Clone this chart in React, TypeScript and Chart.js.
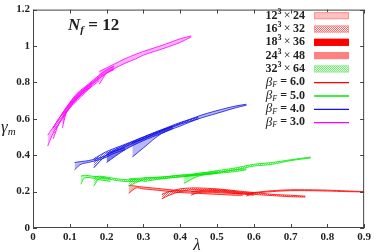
import React, { useEffect, useRef } from 'react';
import { Chart, registerables } from 'chart.js';
Chart.register(...registerables);

const xTicks = [0, 0.1, 0.2, 0.3, 0.4, 0.5, 0.6, 0.7, 0.8, 0.9];
const yTicks = [0, 0.2, 0.4, 0.6, 0.8, 1, 1.2];
const volumeLabels = ['12', '16', '18', '24', '32'];
const volumeTimes = ['24', '32', '36', '48', '64'];
const betaLabels = ['6.0', '5.0', '4.0', '3.0'];

// beta_F = 3.0 (magenta)
const m1X = [0.18, 0.2, 0.22, 0.25, 0.28, 0.3, 0.33, 0.36, 0.4, 0.43];
const m1Hi = [0.86, 0.88, 0.9, 0.93, 0.955, 0.97, 0.99, 1.01, 1.04, 1.055];
const m1Lo = [0.79, 0.85, 0.875, 0.905, 0.93, 0.95, 0.97, 0.99, 1.02, 1.05];
const m2X = [0.08, 0.09, 0.1, 0.12, 0.15, 0.18, 0.2, 0.22];
const m2Hi = [0.63, 0.66, 0.69, 0.74, 0.79, 0.84, 0.87, 0.89];
const m2Lo = [0.55, 0.63, 0.66, 0.71, 0.77, 0.82, 0.85, 0.87];
const m3X = [0.04, 0.05, 0.06, 0.08, 0.1, 0.12, 0.15, 0.18];
const m3Hi = [0.51, 0.54, 0.57, 0.63, 0.68, 0.72, 0.78, 0.83];
const m3Lo = [0.45, 0.5, 0.54, 0.6, 0.66, 0.7, 0.76, 0.81];
const m4X = [0.055, 0.07, 0.09, 0.11, 0.13, 0.16];
const m4Hi = [0.55, 0.6, 0.66, 0.71, 0.75, 0.8];
const m4Lo = [0.49, 0.57, 0.64, 0.69, 0.73, 0.78];

// beta_F = 4.0 (blue)
const b1X = [0.27, 0.3, 0.35, 0.4, 0.45, 0.5, 0.55, 0.58];
const b1Hi = [0.47, 0.49, 0.535, 0.575, 0.615, 0.645, 0.67, 0.68];
const b1Lo = [0.39, 0.44, 0.52, 0.56, 0.6, 0.63, 0.66, 0.675];
const b2X = [0.165, 0.2, 0.25, 0.3, 0.35, 0.4, 0.45];
const b2Hi = [0.38, 0.42, 0.46, 0.5, 0.54, 0.58, 0.61];
const b2Lo = [0.33, 0.4, 0.445, 0.49, 0.53, 0.57, 0.6];
const b3X = [0.2, 0.25, 0.3, 0.35, 0.38];
const b3Hi = [0.41, 0.455, 0.5, 0.54, 0.56];
const b3Lo = [0.36, 0.43, 0.48, 0.52, 0.545];
const b4X = [0.113, 0.13, 0.15, 0.18, 0.2, 0.22, 0.25];
const b4Hi = [0.36, 0.365, 0.37, 0.385, 0.4, 0.42, 0.44];
const b4Lo = [0.32, 0.35, 0.36, 0.375, 0.39, 0.41, 0.43];

// beta_F = 5.0 (green)
const g1X = [0.13, 0.14, 0.16, 0.18, 0.2, 0.21];
const g1Hi = [0.285, 0.29, 0.285, 0.28, 0.275, 0.27];
const g1Lo = [0.24, 0.275, 0.275, 0.265, 0.26, 0.255];
const g2X = [0.165, 0.18, 0.2, 0.23, 0.26, 0.3];
const g2Hi = [0.28, 0.285, 0.28, 0.27, 0.265, 0.27];
const g2Lo = [0.23, 0.27, 0.27, 0.26, 0.255, 0.26];
const g3X = [0.26, 0.3, 0.35, 0.4, 0.45, 0.5, 0.55, 0.6, 0.65, 0.7, 0.755];
const g3Hi = [0.27, 0.275, 0.28, 0.29, 0.3, 0.315, 0.33, 0.35, 0.36, 0.375, 0.39];
const g3Lo = [0.23, 0.265, 0.272, 0.283, 0.292, 0.305, 0.32, 0.34, 0.35, 0.37, 0.385];
const g4X = [0.3, 0.35, 0.4, 0.45, 0.5, 0.55, 0.58];
const g4Hi = [0.275, 0.28, 0.29, 0.295, 0.305, 0.32, 0.325];
const g4Lo = [0.255, 0.27, 0.28, 0.29, 0.3, 0.31, 0.32];
const g5X = [0.41, 0.45, 0.5];
const g5Hi = [0.285, 0.3, 0.31];
const g5Lo = [0.245, 0.285, 0.3];

// beta_F = 6.0 (red)
const r1X = [0.26, 0.28, 0.3, 0.35, 0.4, 0.45, 0.5, 0.55, 0.57];
const r1Hi = [0.235, 0.23, 0.225, 0.215, 0.205, 0.2, 0.195, 0.19, 0.19];
const r1Lo = [0.19, 0.22, 0.215, 0.205, 0.195, 0.19, 0.185, 0.18, 0.18];
const r2X = [0.35, 0.37, 0.4, 0.43, 0.45, 0.5, 0.55, 0.6, 0.65, 0.7, 0.74];
const r2Hi = [0.185, 0.2, 0.215, 0.22, 0.22, 0.215, 0.205, 0.195, 0.185, 0.18, 0.175];
const r2Lo = [0.16, 0.18, 0.2, 0.21, 0.21, 0.205, 0.195, 0.185, 0.178, 0.172, 0.17];
const r3X = [0.58, 0.6, 0.65, 0.7, 0.75, 0.8, 0.85, 0.9];
const r3Hi = [0.19, 0.195, 0.205, 0.21, 0.21, 0.208, 0.204, 0.2];
const r3Lo = [0.175, 0.19, 0.2, 0.205, 0.205, 0.203, 0.2, 0.198];
const r4X = [0.43, 0.45, 0.5, 0.55, 0.6];
const r4Hi = [0.2, 0.205, 0.21, 0.2, 0.19];
const r4Lo = [0.18, 0.195, 0.2, 0.19, 0.18];

const MAG = '255,0,255';
const BLU = '20,20,230';
const GRN = '0,235,0';
const RED = '255,0,0';

function makePattern(rgb: string) {
  const c = document.createElement('canvas');
  c.width = 4; c.height = 4;
  const g = c.getContext('2d')!;
  g.fillStyle = 'rgba(' + rgb + ',0.6)';
  for (let i = 0; i < 4; i++) for (let j = 0; j < 4; j++) if ((i + j) % 2 === 0) g.fillRect(i, j, 1, 1);
  return g.createPattern(c, 'repeat')!;
}

function band(xs: number[], lo: number[], hi: number[], rgb: string, style: string) {
  let fill: any = 'rgba(' + rgb + ',0.3)';
  if (style === 'hatch') fill = makePattern(rgb);
  if (style === 'solid') fill = 'rgba(' + rgb + ',0.55)';
  const line = 'rgba(' + rgb + ',0.9)';
  return [
    { data: xs.map((x, i) => ({ x, y: lo[i] })), borderColor: line, borderWidth: 0.9, pointRadius: 0, fill: false, tension: 0.3 },
    { data: xs.map((x, i) => ({ x, y: hi[i] })), borderColor: line, borderWidth: 0.9, pointRadius: 0, fill: '-1', backgroundColor: fill, tension: 0.3 },
  ];
}

type Part = { t: string; f: string; dy?: number };
function drawParts(ctx: CanvasRenderingContext2D, parts: Part[], x: number, y: number, align: 'left' | 'right' | 'center') {
  let w = 0;
  for (const p of parts) { ctx.font = p.f; w += ctx.measureText(p.t).width; }
  let cx = align === 'left' ? x : align === 'right' ? x - w : x - w / 2;
  ctx.textAlign = 'left';
  ctx.textBaseline = 'middle';
  for (const p of parts) {
    ctx.font = p.f;
    ctx.fillText(p.t, cx, y + (p.dy || 0));
    cx += ctx.measureText(p.t).width;
  }
}

const SERIF = '"Liberation Serif", "DejaVu Serif", serif';

const decor = {
  id: 'decor',
  afterDraw(chart: any) {
    const ctx: CanvasRenderingContext2D = chart.ctx;
    const a = chart.chartArea;
    const xs = chart.scales.x, ys = chart.scales.y;
    ctx.save();
    ctx.strokeStyle = '#444';
    ctx.lineWidth = 1;
    ctx.strokeRect(a.left + 0.5, a.top + 0.5, a.right - a.left - 1, a.bottom - a.top - 1);
    ctx.beginPath();
    for (const t of xTicks) {
      const px = Math.round(xs.getPixelForValue(t)) + 0.5;
      ctx.moveTo(px, a.bottom); ctx.lineTo(px, a.bottom - 4);
      ctx.moveTo(px, a.top); ctx.lineTo(px, a.top + 4);
    }
    for (const t of yTicks) {
      const py = Math.round(ys.getPixelForValue(t)) + 0.5;
      ctx.moveTo(a.left, py); ctx.lineTo(a.left + 4, py);
      ctx.moveTo(a.right, py); ctx.lineTo(a.right - 4, py);
    }
    ctx.stroke();

    ctx.fillStyle = '#222';
    // axis titles
    drawParts(ctx, [{ t: 'γ', f: 'italic 17px ' + SERIF }, { t: 'm', f: 'italic 11px ' + SERIF, dy: 4 }], 1, 128, 'left');
    drawParts(ctx, [{ t: 'λ', f: 'italic 17px ' + SERIF }], 197, 246, 'center');
    // N_f = 12
    drawParts(ctx, [
      { t: 'N', f: 'italic bold 17px ' + SERIF },
      { t: 'f', f: 'italic bold 11px ' + SERIF, dy: 4 },
      { t: ' = 12', f: 'bold 17px ' + SERIF },
    ], 68, 26, 'left');

    // legend
    const tx = 305, sx = 314, sw = 35, sh = 7;
    const rowY = (i: number) => 15.7 + i * 13.3;
    const swFills: any[] = ['#ffc0c0', makePattern(RED), '#ff0000', '#ff8080', makePattern(GRN)];
    const swBorders = ['#ff9090', '#ff9090', '#ff0000', '#ff8080', '#90ee90'];
    for (let i = 0; i < volumeLabels.length; i++) {
      const y = rowY(i);
      ctx.fillStyle = '#222';
      drawParts(ctx, [
        { t: volumeLabels[i], f: 'bold 12px ' + SERIF },
        { t: '3', f: 'bold 8px ' + SERIF, dy: -4 },
        { t: '\u2009×\u2009', f: '12px ' + SERIF },
        { t: volumeTimes[i], f: 'bold 12px ' + SERIF },
      ], tx, y, 'right');
      ctx.fillStyle = swFills[i];
      ctx.fillRect(sx, y - sh / 2, sw, sh);
      ctx.strokeStyle = swBorders[i];
      ctx.lineWidth = 1;
      ctx.strokeRect(sx + 0.5, y - sh / 2 + 0.5, sw - 1, sh - 1);
    }
    const lineCols = ['rgb(' + RED + ')', 'rgb(' + GRN + ')', 'rgb(' + BLU + ')', 'rgb(' + MAG + ')'];
    for (let i = 0; i < betaLabels.length; i++) {
      const y = rowY(5 + i);
      ctx.fillStyle = '#222';
      drawParts(ctx, [
        { t: 'β', f: 'italic 13px ' + SERIF },
        { t: 'F', f: 'italic 8px ' + SERIF, dy: 3 },
        { t: ' = ' + betaLabels[i], f: 'bold 12px ' + SERIF },
      ], tx, y, 'right');
      ctx.strokeStyle = lineCols[i];
      ctx.lineWidth = 1.3;
      ctx.beginPath();
      ctx.moveTo(sx, y + 0.5); ctx.lineTo(sx + sw, y + 0.5);
      ctx.stroke();
    }
    ctx.restore();
  },
};

export default function App() {
  const ref = useRef<HTMLCanvasElement>(null);
  useEffect(() => {
    const datasets: any[] = [
      ...band(m3X, m3Lo, m3Hi, MAG, 'light'),
      ...band(m4X, m4Lo, m4Hi, MAG, 'hatch'),
      ...band(m2X, m2Lo, m2Hi, MAG, 'solid'),
      ...band(m1X, m1Lo, m1Hi, MAG, 'light'),
      ...band(b4X, b4Lo, b4Hi, BLU, 'light'),
      ...band(b2X, b2Lo, b2Hi, BLU, 'hatch'),
      ...band(b3X, b3Lo, b3Hi, BLU, 'solid'),
      ...band(b1X, b1Lo, b1Hi, BLU, 'light'),
      ...band(g1X, g1Lo, g1Hi, GRN, 'light'),
      ...band(g2X, g2Lo, g2Hi, GRN, 'hatch'),
      ...band(g3X, g3Lo, g3Hi, GRN, 'hatch'),
      ...band(g4X, g4Lo, g4Hi, GRN, 'hatch'),
      ...band(g5X, g5Lo, g5Hi, GRN, 'light'),
      ...band(r1X, r1Lo, r1Hi, RED, 'light'),
      ...band(r2X, r2Lo, r2Hi, RED, 'hatch'),
      ...band(r4X, r4Lo, r4Hi, RED, 'light'),
      ...band(r3X, r3Lo, r3Hi, RED, 'light'),
    ];
    const chart = new Chart(ref.current!, {
      type: 'line',
      data: { datasets },
      options: {
        animation: false,
        responsive: false,
        maintainAspectRatio: false,
        layout: { padding: { left: 0, right: 8, top: 5, bottom: 0 } },
        plugins: { legend: { display: false }, tooltip: { enabled: false } },
        scales: {
          x: {
            type: 'linear', min: 0, max: 0.9,
            afterBuildTicks: (s: any) => { s.ticks = xTicks.map(v => ({ value: v })); },
            afterFit: (s: any) => { s.height = 24; },
            grid: { display: false, drawTicks: false },
            border: { display: false },
            ticks: {
              padding: 3, color: '#222', maxRotation: 0,
              font: { family: SERIF, size: 11, weight: 'bold' },
              callback: (v: any) => String(Math.round(v * 10) / 10),
            },
          },
          y: {
            type: 'linear', min: 0, max: 1.2,
            afterBuildTicks: (s: any) => { s.ticks = yTicks.map(v => ({ value: v })); },
            afterFit: (s: any) => { s.width = 33; },
            grid: { display: false, drawTicks: false },
            border: { display: false },
            ticks: {
              padding: 3, color: '#222',
              font: { family: SERIF, size: 11, weight: 'bold' },
              callback: (v: any) => String(Math.round(v * 10) / 10),
            },
          },
        },
      },
      plugins: [decor],
    } as any);
    return () => chart.destroy();
  }, []);
  return (
    <div style={{ position: 'fixed', left: 0, top: 0, width: 374, height: 252, background: '#fff' }}>
      <canvas ref={ref} width={374} height={252} style={{ display: 'block', width: 374, height: 252 }} />
    </div>
  );
}
